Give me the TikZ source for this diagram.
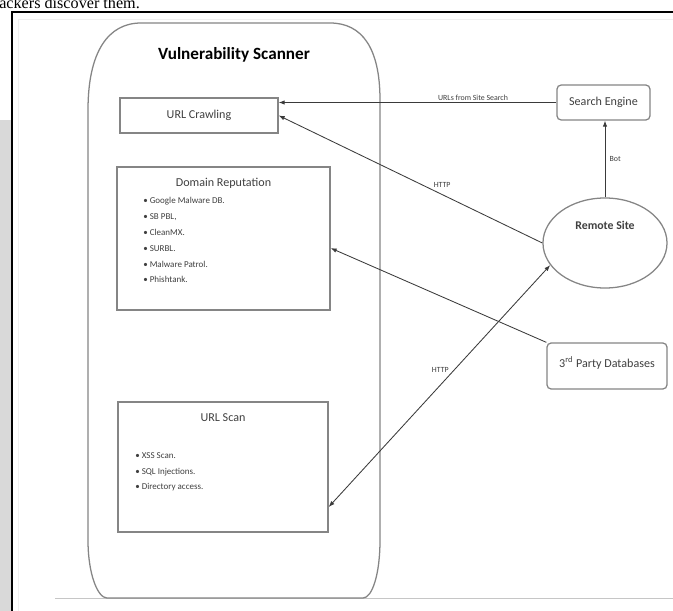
\documentclass[tikz,border=0pt]{standalone}
\usepackage{fontspec}
\setmainfont{Carlito}
\newfontfamily\pageserif{Liberation Serif}
\usepackage{tikz}
\usetikzlibrary{arrows.meta,positioning,calc,shapes.geometric}
\definecolor{ink}{HTML}{3A3A3A}
\definecolor{boxgray}{HTML}{858585}
\definecolor{stripgray}{HTML}{D9D9D9}
\definecolor{txtgray}{HTML}{404040}

\begin{document}
\begin{tikzpicture}[x=0.025cm,y=-0.025cm]
    \tikzset{
      box/.style={draw=boxgray,line width=0.9pt,fill=white,inner sep=0pt},
      rbox/.style={box,rounded corners=3pt},
      head/.style={font=\fontsize{8.6}{10}\selectfont,text=txtgray,inner sep=0pt},
      items/.style={font=\fontsize{6.4}{11.3}\selectfont,text=txtgray,align=left,inner sep=0pt},
      tag/.style={font=\fontsize{5.6}{6}\selectfont,text=txtgray,inner sep=1pt},
      arrow/.style={-{Latex[length=1.5mm,width=1.1mm]},draw=ink,line width=0.6pt},
      twoway/.style={{Latex[length=1.5mm,width=1.1mm]}-{Latex[length=1.5mm,width=1.1mm]},draw=ink,line width=0.6pt}
    }
    \useasboundingbox (0,0) rectangle (673,611);
    \clip (0,0) rectangle (673,611);
    \fill[white] (0,0) rectangle (673,611);
    \fill[stripgray] (0,120) rectangle (11,611);
    \node[anchor=base west,inner sep=0pt,font=\pageserif\fontsize{11.5}{12}\selectfont] (pagetext) at (-1,8.5) {ackers discover them.};
    \draw[black,line width=1pt] (12,611) -- (12,12) -- (674,12);
    \draw[gray!12,line width=0.6pt] (18,611) -- (18,19) -- (674,19);
    \draw[gray!45,line width=0.6pt] (55,598) -- (674,598);
    \draw[boxgray,line width=0.9pt] (88,110) -- (88,540) .. controls (88,575) and (98,598) .. (107,598)
      -- (363,598) .. controls (372,598) and (380,575) .. (380,540)
      -- (380,100) .. controls (380,48) and (362,23) .. (330,23)
      -- (141,23) .. controls (108,23) and (88,52) .. (88,110) -- cycle;
    \node[font=\bfseries\fontsize{12.2}{14}\selectfont,text=black] (scantitle) at (234,55) {Vulnerability Scanner};
    \node[box,minimum width=3.95cm,minimum height=0.875cm,head] (crawl) at (199,115.5) {URL Crawling};
    \node[box,minimum width=5.325cm,minimum height=3.575cm] (dom) at (223.5,238.5) {};
    \node[head,below=0.28cm of dom.north] (domtitle) {Domain Reputation};
    \node[items,anchor=north west] (domlist) at (143,197) {\textbullet~Google Malware DB.\\ \textbullet~SB PBL,\\ \textbullet~CleanMX.\\ \textbullet~SURBL.\\ \textbullet~Malware Patrol.\\ \textbullet~Phishtank.};
    \node[box,minimum width=5.25cm,minimum height=3.25cm] (scan) at (223,467) {};
    \node[head,below=0.3cm of scan.north] (scantop) {URL Scan};
    \node[items,anchor=north west] (scanlist) at (135,452) {\textbullet~XSS Scan.\\ \textbullet~SQL Injections.\\ \textbullet~Directory access.};
    \node[rbox,minimum width=2.325cm,minimum height=0.875cm,head] (se) at (603.5,102.5) {Search Engine};
    \node[box,ellipse,minimum width=3.1cm,minimum height=2.25cm] (remote) at (605,243) {};
    \node[font=\bfseries\fontsize{8.4}{10}\selectfont,text=txtgray,above=0.2cm of remote.center] (remotetext) {Remote Site};
    \node[rbox,minimum width=3cm,minimum height=1.15cm] (db) at (607,366) {};
    \node[head,below=0.35cm of db.north] (dbtext) {3\textsuperscript{rd} Party Databases};
    \draw[arrow] (se.west) -- (se.west -| crawl.east) node[tag,pos=0.3,above] {URLs from Site Search};
    \draw[arrow] (remote.west) -- (crawl.east) node[tag,pos=0.38,above=4pt] {HTTP};
    \draw[arrow] (remote.north) -- (remote.north |- se.south) node[tag,midway,right=2pt] {Bot};
    \draw[arrow] (db.north west) -- ([yshift=-0.24cm]dom.east);
    \draw[twoway] (remote.202) -- ([yshift=-1cm]scan.east) node[tag,pos=0.45,above left] {HTTP};
  \end{tikzpicture}
\end{document}
